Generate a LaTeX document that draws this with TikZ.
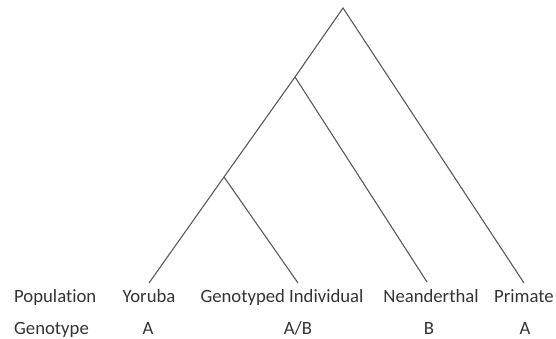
\documentclass[tikz,border=0pt]{standalone}
\usepackage{fontspec}
\setmainfont[RawFeature={-liga;-clig;-calt;-dlig}]{Carlito}
\begin{document}
\begin{tikzpicture}[x=1pt,y=-1pt,
  branch/.style={draw=black!65, line width=1.1pt},
  lbl/.style={anchor=base, inner sep=0pt, text=black!80, font=\fontsize{18.7}{22}\selectfont}]
\useasboundingbox (0,0) rectangle (556,339);
% tree coordinates
\coordinate (root) at (343,8);
\coordinate (n1) at (295,77);
\coordinate (n2) at (224,177);
\coordinate (yor) at (149,283);
\coordinate (gen) at (298,283);
\coordinate (nea) at (427,282);
\coordinate (pri) at (524,283);
\draw[branch] (yor) -- (n2) -- (n1) -- (root) -- (pri);
\draw[branch] (n2) -- (gen);
\draw[branch] (n1) -- (nea);
% labels
\node[lbl, anchor=base west] (pop) at (14,302) {Population};
\node[lbl] (lyor) at (149,302) {Yoruba};
\node[lbl] (lgen) at (282,302) {Genotyped Individual};
\node[lbl] (lnea) at (431,302) {Neanderthal};
\node[lbl] (lpri) at (524,302) {Primate};
\node[lbl, anchor=base west] (gt) at (14,334) {Genotype};
\node[lbl] (gyor) at (148,334) {A};
\node[lbl] (ggen) at (298,334) {A/B};
\node[lbl] (gnea) at (429,334) {B};
\node[lbl] (gpri) at (525,334) {A};
\end{tikzpicture}
\end{document}
